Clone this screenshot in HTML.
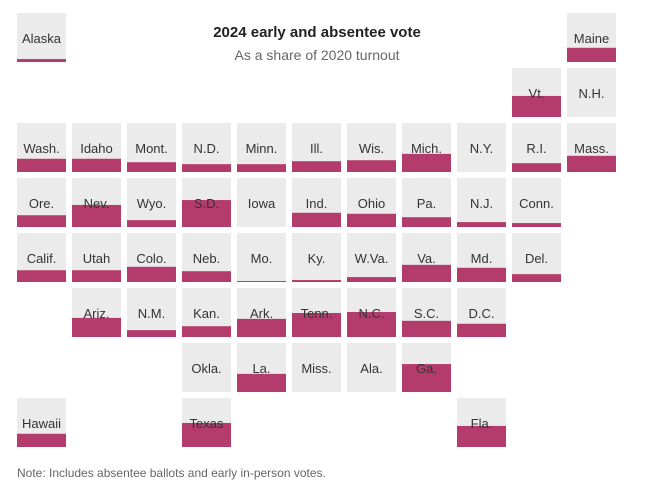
<!DOCTYPE html>
<html><head><meta charset="utf-8"><style>
body{margin:0;background:#fff;width:651px;height:497px;overflow:hidden;font-family:"Liberation Sans",Arial,sans-serif}
svg text{font-family:"Liberation Sans",Arial,sans-serif}
.lbl{font-size:13px;fill:#333;text-anchor:middle;paint-order:stroke;stroke:#fff;stroke-width:0}
</style></head><body>
<svg id="c" width="651" height="497">
<text x="317" y="37" text-anchor="middle" font-size="15" font-weight="bold" fill="#222">2024 early and absentee vote</text>
<text x="317" y="60" text-anchor="middle" font-size="14" fill="#666">As a share of 2020 turnout</text>
<text x="17" y="477" font-size="12" fill="#666">Note: Includes absentee ballots and early in-person votes.</text>
</svg>
<script>
const states=["Alaska","Maine","Vt.","N.H.","Wash.","Idaho","Mont.","N.D.","Minn.","Ill.","Wis.","Mich.","N.Y.","R.I.","Mass.","Ore.","Nev.","Wyo.","S.D.","Iowa","Ind.","Ohio","Pa.","N.J.","Conn.","Calif.","Utah","Colo.","Neb.","Mo.","Ky.","W.Va.","Va.","Md.","Del.","Ariz.","N.M.","Kan.","Ark.","Tenn.","N.C.","S.C.","D.C.","Okla.","La.","Miss.","Ala.","Ga.","Hawaii","Texas","Fla."];
const cols=[0,10,9,10,0,1,2,3,4,5,6,7,8,9,10,0,1,2,3,4,5,6,7,8,9,0,1,2,3,4,5,6,7,8,9,1,2,3,4,5,6,7,8,3,4,5,6,7,0,3,8];
const rows=[0,0,1,1,2,2,2,2,2,2,2,2,2,2,2,3,3,3,3,3,3,3,3,3,3,4,4,4,4,4,4,4,4,4,4,5,5,5,5,5,5,5,5,6,6,6,6,6,7,7,7];
const shares=[6,29,43,0,27,27,20,16,16,22,24,37,0,18,33,24,45,14,55,0,29,27,20,10,8,24,24,31,22,2,4,10,35,29,16,39,14,22,37,49,51,33,27,0,37,0,0,57,27,49,43];
const svg=document.getElementById('c');
const NS='http://www.w3.org/2000/svg';
const X=c=>17+c*55, Y=r=>13+r*55, T=49, H=v=>v/100*T;
states.forEach((s,i)=>{
  const g=document.createElementNS(NS,'g');
  
  
  const x=X(cols[i]),y=Y(rows[i]);
  const bg=document.createElementNS(NS,'rect');
  bg.setAttribute('x',x);bg.setAttribute('y',y);bg.setAttribute('width',T);bg.setAttribute('height',T);bg.setAttribute('fill','#ebebeb');
  
  
  g.appendChild(bg);
  const h=H(shares[i]);
  const f=document.createElementNS(NS,'rect');
  f.setAttribute('x',x);f.setAttribute('y',y+T-h);f.setAttribute('width',T);f.setAttribute('height',h);f.setAttribute('fill','#b43c6c');
  
  
  g.appendChild(f);
  const t=document.createElementNS(NS,'text');
  t.setAttribute('x',x+T/2);t.setAttribute('y',y+30);t.setAttribute('class','lbl');
  if(h>18){t.setAttribute('stroke-width','2');}
  t.textContent=s;
  
  
  g.appendChild(t);
  svg.appendChild(g);
});
</script>
</body></html>
